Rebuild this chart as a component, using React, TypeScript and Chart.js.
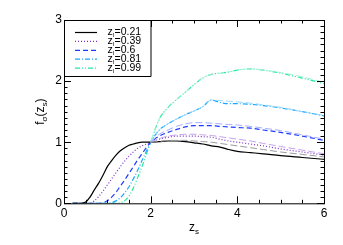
import React, { useEffect, useRef } from "react";
import { Chart, registerables } from "chart.js";
Chart.register(...registerables);

const zs = [0.2, 0.4, 0.5, 0.6, 0.7, 0.8, 0.9, 1.0, 1.1, 1.2, 1.3, 1.4, 1.5, 1.6, 1.7, 1.8, 1.9, 2.0, 2.2, 2.4, 2.6, 2.8, 3.0, 3.2, 3.4, 3.6, 3.8, 4.0, 4.3, 4.6, 5.0, 5.5, 6.0];
const zsHigh = [2.0, 2.2, 2.4, 2.6, 2.8, 3.0, 3.2, 3.4, 3.6, 3.8, 4.0, 4.3, 4.6, 5.0, 5.5, 6.0];

const zlLabels = ["0.21", "0.39", "0.6", "0.81", "0.99"];

const f021 = [0, 0, 0.02, 0.1, 0.22, 0.33, 0.46, 0.6, 0.7, 0.79, 0.86, 0.91, 0.95, 0.97, 0.99, 1.0, 1.0, 1.0, 1.01, 1.02, 1.02, 1.01, 0.99, 0.97, 0.94, 0.92, 0.88, 0.85, 0.83, 0.81, 0.78, 0.75, 0.72];
const f039 = [0, 0, 0, 0, 0.04, 0.11, 0.2, 0.3, 0.4, 0.5, 0.6, 0.69, 0.77, 0.84, 0.9, 0.94, 0.97, 1.0, 1.05, 1.08, 1.1, 1.1, 1.1, 1.09, 1.08, 1.05, 1.02, 1.0, 0.97, 0.94, 0.89, 0.84, 0.79];
const f060 = [0, 0, 0, 0, 0, 0, 0.01, 0.04, 0.1, 0.18, 0.28, 0.38, 0.49, 0.6, 0.71, 0.81, 0.91, 1.0, 1.1, 1.16, 1.21, 1.25, 1.27, 1.27, 1.27, 1.26, 1.25, 1.24, 1.23, 1.2, 1.16, 1.1, 1.03];
const f081 = [0, 0, 0, 0, 0, 0, 0, 0, 0.01, 0.04, 0.09, 0.17, 0.27, 0.4, 0.54, 0.7, 0.85, 1.0, 1.2, 1.3, 1.38, 1.45, 1.51, 1.58, 1.69, 1.65, 1.63, 1.63, 1.62, 1.6, 1.56, 1.5, 1.43];
const f099 = [0, 0, 0, 0, 0, 0, 0, 0, 0, 0, 0.01, 0.04, 0.12, 0.25, 0.42, 0.6, 0.8, 1.0, 1.38, 1.57, 1.7, 1.82, 1.94, 2.05, 2.11, 2.13, 2.15, 2.18, 2.2, 2.18, 2.13, 2.05, 1.96];

const g021 = [1.0, 1.01, 1.03, 1.03, 1.03, 1.02, 1.01, 1.0, 0.98, 0.96, 0.94, 0.91, 0.88, 0.84, 0.8, 0.76];
const g039 = [1.0, 1.06, 1.1, 1.12, 1.13, 1.13, 1.12, 1.11, 1.09, 1.07, 1.05, 1.02, 0.98, 0.93, 0.87, 0.81];
const g060 = [1.0, 1.13, 1.2, 1.26, 1.3, 1.32, 1.32, 1.31, 1.3, 1.29, 1.28, 1.26, 1.23, 1.19, 1.12, 1.05];
const g081 = [1.0, 1.2, 1.3, 1.38, 1.45, 1.51, 1.58, 1.69, 1.68, 1.67, 1.66, 1.64, 1.61, 1.57, 1.5, 1.44];
const g099 = [1.0, 1.38, 1.57, 1.7, 1.82, 1.94, 2.05, 2.11, 2.13, 2.15, 2.18, 2.2, 2.18, 2.14, 2.07, 1.98];

const mainSeries = [f021, f039, f060, f081, f099];
const lightSeries = [g021, g039, g060, g081, g099];
const mainColors = ["#000000", "#7a30c8", "#1e3cff", "#18a8ff", "#20e8a0"];
const lightColors = ["#9a9a9a", "#c4a4e8", "#a4acff", "#9ad8ff", "#a4f2d4"];
const dashes = [[], [1, 2], [5, 3], [5, 2, 1, 2], [5, 2, 1, 2, 1, 2]];

const xTicks = [0, 2, 4, 6];
const yTicks = [0, 1, 2, 3];

const FONT = "'Liberation Sans', Arial, Helvetica, sans-serif";

const framePlugin = {
  id: "idlFrame",
  afterDraw(chart: any) {
    const ctx = chart.ctx;
    const { left, right, top, bottom } = chart.chartArea;
    const xs = chart.scales.x;
    const ys = chart.scales.y;
    ctx.save();
    ctx.strokeStyle = "#000";
    ctx.lineWidth = 1;
    ctx.setLineDash([]);
    ctx.strokeRect(left + 0.5, top + 0.5, right - left, bottom - top);
    for (let v = 0; v <= 6.0001; v += 0.5) {
      const px = Math.round(xs.getPixelForValue(v)) + 0.5;
      const major = Math.abs(v - Math.round(v / 2) * 2) < 1e-6;
      const len = major ? 7 : 3.5;
      ctx.beginPath();
      ctx.moveTo(px, bottom);
      ctx.lineTo(px, bottom - len);
      ctx.moveTo(px, top);
      ctx.lineTo(px, top + len);
      ctx.stroke();
    }
    for (let i = 0; i <= 30; i++) {
      const v = i / 10;
      const py = Math.round(ys.getPixelForValue(v)) + 0.5;
      const major = i % 10 === 0;
      const len = major ? 7 : 3.5;
      ctx.beginPath();
      ctx.moveTo(left, py);
      ctx.lineTo(left + len, py);
      ctx.moveTo(right, py);
      ctx.lineTo(right - len, py);
      ctx.stroke();
    }
    ctx.fillStyle = "#000";
    ctx.font = `12px ${FONT}`;
    ctx.textAlign = "center";
    ctx.textBaseline = "middle";
    xTicks.forEach((v) => {
      ctx.fillText(String(v), xs.getPixelForValue(v), bottom + 10);
    });
    ctx.textAlign = "right";
    yTicks.forEach((v) => {
      ctx.fillText(String(v), left - 2, ys.getPixelForValue(v));
    });
    const cx = (left + right) / 2;
    ctx.textAlign = "left";
    ctx.textBaseline = "alphabetic";
    ctx.font = `12px ${FONT}`;
    const zw = ctx.measureText("z").width;
    ctx.font = `8px ${FONT}`;
    const sw = ctx.measureText("s").width;
    const x0 = cx - (zw + sw) / 2;
    ctx.font = `12px ${FONT}`;
    ctx.fillText("z", x0, 231);
    ctx.font = `8px ${FONT}`;
    ctx.fillText("s", x0 + zw, 234);
    ctx.save();
    ctx.translate(44, (top + bottom) / 2);
    ctx.rotate(-Math.PI / 2);
    const parts: [string, number, number][] = [
      ["f", 12, 0],
      ["σ", 8, 3],
      ["(", 12, 0],
      ["z", 12, 0],
      ["s", 8, 3],
      [")", 12, 0],
    ];
    let total = 0;
    parts.forEach(([t, s]) => {
      ctx.font = `${s}px ${FONT}`;
      total += ctx.measureText(t).width;
    });
    let xx = -total / 2;
    parts.forEach(([t, s, dy]) => {
      ctx.font = `${s}px ${FONT}`;
      ctx.fillText(t, xx, dy);
      xx += ctx.measureText(t).width;
    });
    ctx.restore();
    const lx0 = left, ly0 = top, lx1 = 150.5, ly1 = 76;
    ctx.fillStyle = "#fff";
    ctx.fillRect(lx0 + 1, ly0 + 1, lx1 - lx0 - 1, ly1 - ly0 - 1);
    ctx.strokeStyle = "#000";
    ctx.beginPath();
    ctx.moveTo(lx0 + 0.5, ly1 + 0.5);
    ctx.lineTo(lx1 + 0.5, ly1 + 0.5);
    ctx.lineTo(lx1 + 0.5, ly0 + 0.5);
    ctx.stroke();
    zlLabels.forEach((lab, i) => {
      const y = 32.5 + i * 8.9;
      ctx.strokeStyle = mainColors[i];
      ctx.lineWidth = 1.2;
      ctx.setLineDash(dashes[i]);
      ctx.beginPath();
      ctx.moveTo(75, y);
      ctx.lineTo(97, y);
      ctx.stroke();
      ctx.setLineDash([]);
      ctx.fillStyle = "#000";
      ctx.textBaseline = "middle";
      ctx.textAlign = "left";
      ctx.font = `10.5px ${FONT}`;
      ctx.fillText("z", 107.5, y);
      const w1 = ctx.measureText("z").width;
      ctx.font = `6px ${FONT}`;
      ctx.fillText("l", 107.5 + w1, y + 3);
      const w2 = ctx.measureText("l").width;
      ctx.font = `10.5px ${FONT}`;
      ctx.fillText("=" + lab, 107.5 + w1 + w2 + 0.5, y);
    });
    ctx.restore();
  },
};

export default function App() {
  const ref = useRef<HTMLCanvasElement>(null);
  useEffect(() => {
    document.body.style.margin = "0";
    const datasets: any[] = [];
    lightSeries.forEach((ys, i) => {
      datasets.push({
        data: zsHigh.map((x, j) => ({ x, y: ys[j] })),
        borderColor: lightColors[i],
        borderWidth: 1,
        borderDash: [7, 3],
        pointRadius: 0,
        cubicInterpolationMode: "monotone",
        fill: false,
      });
    });
    mainSeries.forEach((ys, i) => {
      datasets.push({
        data: zs.map((x, j) => ({ x, y: ys[j] })),
        borderColor: mainColors[i],
        borderWidth: 1.2,
        borderDash: dashes[i],
        pointRadius: 0,
        cubicInterpolationMode: "monotone",
        fill: false,
      });
    });
    const chart = new Chart(ref.current!, {
      type: "line",
      data: { datasets },
      options: {
        animation: false,
        responsive: false,
        devicePixelRatio: 1,
        layout: { padding: { left: 64, right: 19, top: 20, bottom: 41.7 } },
        plugins: { legend: { display: false }, tooltip: { enabled: false } },
        scales: {
          x: { type: "linear", min: 0, max: 6, display: false },
          y: { type: "linear", min: 0, max: 3, display: false },
        },
      },
      plugins: [framePlugin],
    });
    return () => chart.destroy();
  }, []);
  return <canvas ref={ref} width={343} height={245} style={{ display: "block" }} />;
}
